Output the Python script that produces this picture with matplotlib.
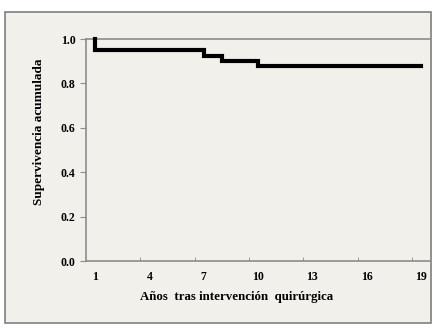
import matplotlib.pyplot as plt

# Datos (supervivencia acumulada, Kaplan-Meier)
years = [1, 1, 7, 8, 10, 19]
survival = [1.0, 0.95, 0.925, 0.902, 0.88, 0.88]

xtick_labels = [1, 4, 7, 10, 13, 16, 19]
ytick_values = [0.0, 0.2, 0.4, 0.6, 0.8, 1.0]

bg = '#F1F0EB'
axis_col = '#8C8C8C'

plt.rcParams['font.family'] = ['Liberation Serif', 'DejaVu Serif']
plt.rcParams['font.weight'] = 'bold'

fig = plt.figure(figsize=(4.34, 3.34), dpi=100)
fig.patch.set_facecolor('white')

# marco exterior del grafico
frame = plt.Rectangle((4.5 / 434, 1 - 323 / 334), 426 / 434, 311 / 334,
                      transform=fig.transFigure, facecolor=bg,
                      edgecolor='#7F7F7F', linewidth=1.2, zorder=-10)
fig.patches.append(frame)

ax = fig.add_axes([86 / 434, 1 - 261 / 334, 344 / 434, 222 / 334])
ax.set_facecolor(bg)
ax.set_zorder(1)

ax.plot(years, survival, drawstyle='steps-post', color='black',
        linewidth=3, solid_joinstyle='miter', clip_on=False, zorder=3)

ax.set_xlim(0.5, 19.5)
ax.set_ylim(0, 1.0)

ax.set_xticks(xtick_labels)
ax.set_xticklabels([str(v) for v in xtick_labels], fontsize=8.5, fontweight='bold')
ax.set_xticks([3.5, 6.5, 9.5, 12.5, 15.5, 18.5], minor=True)
ax.tick_params(axis='x', which='major', length=0, pad=7)
ax.tick_params(axis='x', which='minor', direction='in', length=3, color=axis_col)

ax.set_yticks(ytick_values)
ax.set_yticklabels([f'{v:.1f}' for v in ytick_values], fontsize=8.5, fontweight='bold')
ax.tick_params(axis='y', direction='out', length=4, color=axis_col, pad=3.5)

for side in ['left', 'bottom', 'top']:
    ax.spines[side].set_color(axis_col)
    ax.spines[side].set_linewidth(1.2)
ax.spines['right'].set_visible(False)

ax.set_xlabel('Años  tras intervención  quirúrgica', fontsize=9.3, fontweight='bold')
ax.xaxis.set_label_coords(0.439, -0.135)
ax.set_ylabel('Supervivencia acumulada', fontsize=9.5, fontweight='bold')
ax.yaxis.set_label_coords(-0.118, 0.581)

fig.savefig('out.png', dpi=100, facecolor='white')
